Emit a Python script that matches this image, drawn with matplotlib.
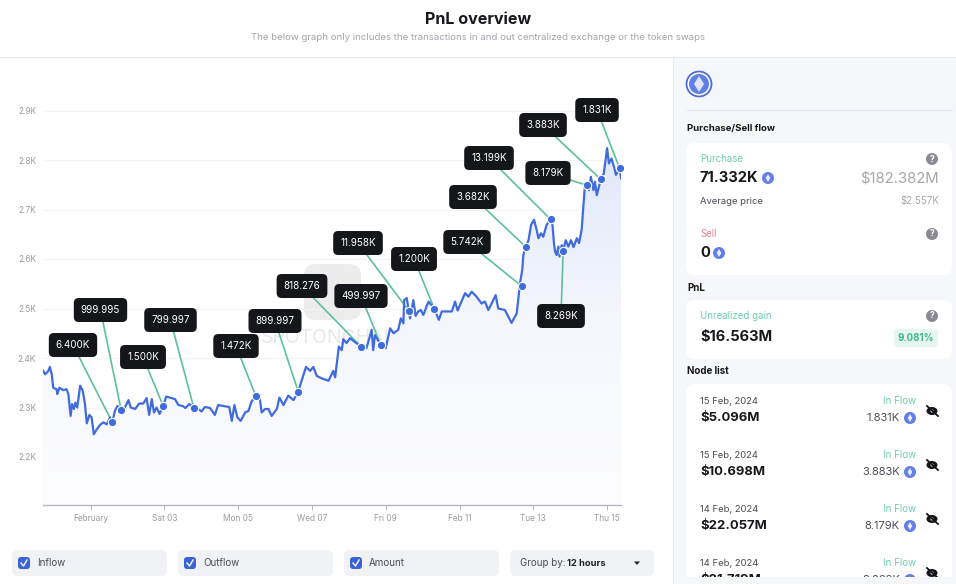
import matplotlib
matplotlib.use("Agg")
import matplotlib.pyplot as plt
import numpy as np
from matplotlib.patches import FancyBboxPatch, Rectangle, Circle, Polygon, Ellipse
from matplotlib.colors import LinearSegmentedColormap

plt.rcParams['font.family'] = ['Inter', 'DejaVu Sans']

# ---------- data ----------
days = [-1.28,-1.23,-1.14,-1.10,-1.05,-1.01,-0.92,-0.90,-0.84,-0.74,-0.65,-0.60,-0.54,-0.50,-0.45,-0.41,-0.36,-0.28,-0.21,-0.15,
        -0.10,-0.03,0.03,0.09,0.17,0.26,0.35,0.44,0.53,0.59,0.66,0.73,0.83,0.91,1.03,1.09,1.21,1.32,1.43,1.52,
        1.59,1.66,1.72,1.79,1.87,1.97,2.05,2.15,2.29,2.38,2.50,2.57,2.68,2.80,2.92,3.01,3.10,3.24,3.37,3.46,
        3.60,3.76,3.83,3.90,3.98,4.07,4.19,4.28,4.37,4.48,4.57,4.64,4.73,4.82,4.91,5.05,5.12,5.23,5.36,5.50,
        5.54,5.63,5.72,5.84,5.95,6.04,6.13,6.26,6.45,6.58,6.63,
        6.69,6.73,6.81,6.85,6.94,7.03,7.17,7.33,7.48,7.62,7.66,7.71,7.87,8.00,8.12,8.21,8.34,8.41,8.48,8.50,
        8.57,8.63,8.66,8.75,8.81,8.88,8.95,9.02,9.16,9.32,9.44,9.52,9.65,9.79,9.88,9.95,10.15,10.24,10.33,10.46,
        10.60,10.69,10.78,10.87,10.98,11.05,11.23,11.41,11.55,11.61,11.64,
        11.70,11.73,11.79,11.87,11.94,12.02,12.09,12.14,12.21,12.27,12.36,12.47,12.52,12.56,12.59,12.63,12.68,12.71,12.77,12.81,
        12.88,12.95,13.02,13.09,13.18,13.24,13.31,13.37,13.40,13.46,13.51,13.56,13.63,13.67,13.72,13.83,13.91,13.94,14.00,14.05,
        14.12,14.20,14.24,14.34,14.38]
prices = [2374,2367,2374,2382,2367,2340,2337,2327,2340,2335,2337,2327,2283,2307,2297,2310,2300,2344,2334,2307,
          2268,2285,2280,2246,2256,2265,2270,2266,2280,2270,2293,2303,2295,2297,2315,2300,2297,2308,2308,2319,
          2285,2317,2290,2300,2287,2303,2322,2320,2317,2305,2303,2299,2307,2299,2297,2292,2301,2299,2285,2305,
          2303,2301,2273,2305,2280,2273,2290,2293,2313,2323,2327,2290,2297,2297,2283,2297,2320,2305,2324,2315,
          2320,2332,2354,2382,2374,2382,2364,2359,2354,2374,2361,
          2399,2423,2416,2438,2430,2440,2432,2423,2420,2457,2416,2446,2426,2420,2460,2450,2457,2480,2470,2517,
          2521,2494,2480,2517,2485,2494,2497,2487,2514,2499,2477,2494,2494,2494,2514,2496,2531,2524,2534,2524,
          2510,2514,2497,2510,2527,2500,2497,2471,2490,2531,2551,
          2578,2608,2625,2638,2669,2679,2659,2642,2652,2645,2669,2680,2669,2632,2615,2608,2625,2605,2628,2617,
          2638,2625,2638,2624,2642,2632,2659,2719,2749,2751,2739,2766,2739,2756,2729,2761,2773,2790,2824,2793,
          2803,2783,2770,2783,2763]

node_labels = ["6.400K","999.995","1.500K","799.997","1.472K","899.997","818.276","499.997","11.958K",
               "1.200K","5.742K","3.682K","13.199K","8.269K","8.179K","3.883K","1.831K"]
node_days = [0.59,0.83,1.97,2.80,4.48,5.63,7.33,7.87,8.64,9.32,11.69,11.79,12.47,12.81,13.45,13.83,14.34]
node_prices = [2270,2295,2303,2299,2323,2332,2423,2426,2494,2499,2545,2625,2680,2617,2749,2761,2783]

tick_days = [0,2,4,6,8,10,12,14]
tick_labels = ["February","Sat 03","Mon 05","Wed 07","Fri 09","Feb 11","Tue 13","Thu 15"]
y_ticks = [2200,2300,2400,2500,2600,2700,2800,2900]
y_labels = ["2.2K","2.3K","2.4K","2.5K","2.6K","2.7K","2.8K","2.9K"]

node_dates = ["15 Feb, 2024","15 Feb, 2024","14 Feb, 2024","14 Feb, 2024"]
node_usd = ["$5.096M","$10.698M","$22.057M","$21.719M"]
node_amt = ["1.831K","3.883K","8.179K","8.269K"]
toggles = ["Inflow","Outflow","Amount"]

# ---------- layout ----------
W, H = 956, 584
label_px = [(73,345),(100.5,310),(143,357),(170.5,320),(236,346),(275,321),(302,286),(361,296),(358,243),
            (414,259),(467,242),(473,197),(489,158),(561,316),(548,173),(543,125),(597,110)]
BLUE = "#3f6bdc"; GREEN = "#5dc09c"; ETH = "#627eea"

fig = plt.figure(figsize=(W/100, H/100), dpi=100, facecolor="white")
ui = fig.add_axes([0,0,1,1], zorder=1)
ui.set_xlim(0,W); ui.set_ylim(H,0); ui.axis("off")
top = fig.add_axes([0,0,1,1], zorder=3)
top.set_xlim(0,W); top.set_ylim(H,0); top.axis("off"); top.patch.set_alpha(0)

def card(x0,y0,x1,y1,fc,r=8,z=1,axes=None):
    (axes or ui).add_patch(FancyBboxPatch((x0+r,y0+r),x1-x0-2*r,y1-y0-2*r,
                           boxstyle=f"round,pad={r},rounding_size={r}",fc=fc,ec="none",zorder=z))
def txt(x,y,s,size=7,color="#222",weight="normal",ha="left",z=5):
    return ui.text(x,y,s,fontsize=size,color=color,fontweight=weight,ha=ha,va="center",zorder=z)
def eth(x,y,r=6):
    ui.add_patch(Circle((x,y),r,fc=ETH,ec="none",zorder=5))
    ui.add_patch(Polygon([(x,y-r*.65),(x+r*.4,y),(x,y+r*.65),(x-r*.4,y)],fc="white",ec="none",alpha=.85,zorder=6))
def qmark(x,y):
    ui.add_patch(Circle((x,y),6,fc="#8a8a94",ec="none",zorder=5))
    txt(x,y,"?",6,"white","bold","center",6)
def eye(x,y):
    ui.add_patch(Ellipse((x,y),11,8,fc="#15151a",ec="none",zorder=5))
    ui.add_patch(Circle((x,y),1.6,fc="#d8d8d0",ec="none",zorder=6))
    ui.plot([x-5,x+6],[y-5,y+5],color="#15151a",lw=1.3,zorder=7)

# header and side panel
ui.add_patch(Rectangle((673,57),283,527,fc="#f6f7fb",ec="none",zorder=0))
ui.plot([0,956],[56.5,56.5],color="#e8e9ee",lw=0.8,zorder=1)
ui.plot([673,673],[57,584],color="#e8e9ee",lw=0.8,zorder=1)
txt(478,20,"PnL overview",11.6,"#17171c","bold","center")
txt(478,37,"The below graph only includes the transactions in and out centralized exchange or the token swaps",6.9,"#a3a4ad",ha="center")

# watermark
card(304,264,361,320,"#ececed",r=12,z=0.5)
t = txt(332.5,338,"SPOTONCHAIN",14,"#e9e9eb",ha="center",z=0.6)

# chart
ax = fig.add_axes([43/W,(H-505)/H,(621-43)/W,(505-57)/H],zorder=2)
ax.patch.set_alpha(0)
xlim = ((43-90.5)/36.9,(621-90.5)/36.9)
ylim = (2200-(505-457)/0.495,2200+(457-57)/0.495)
for s in ["top","left","right"]:
    ax.spines[s].set_visible(False)
ax.spines["bottom"].set_color("#b4b6bf"); ax.spines["bottom"].set_linewidth(1)
ax.set_xticks(tick_days); ax.set_xticklabels(tick_labels)
ax.set_yticks(y_ticks); ax.set_yticklabels(y_labels)
ax.tick_params(axis="x",length=3.5,width=0.7,color="#b4b6bf",labelsize=6,labelcolor="#9a9ba3",pad=3)
ax.tick_params(axis="y",length=0,labelsize=6,labelcolor="#9a9ba3",pad=5)
ax.grid(axis="y",color="#f3f4f6",lw=0.8)
ax.set_axisbelow(True)

xs = np.array(days); ys = np.array(prices)
cmap = LinearSegmentedColormap.from_list("g",["#fdfdff","#f5f7fd","#e1e8fa"])
grad = np.linspace(1,0,256).reshape(-1,1)
im = ax.imshow(grad,extent=[xs[0],xs[-1],ylim[0],2830],aspect="auto",cmap=cmap,zorder=1)
clip = Polygon(np.column_stack([np.r_[xs[0],xs,xs[-1]],np.r_[ylim[0],ys,ylim[0]]]),transform=ax.transData,fc="none",ec="none")
ax.add_patch(clip); im.set_clip_path(clip)
ax.set_xlim(xlim); ax.set_ylim(ylim)

ax.plot(xs,ys,color=BLUE,lw=1.6,zorder=3,solid_joinstyle="round")
ax.plot(node_days,node_prices,ls="none",marker="o",ms=6,mfc=BLUE,mec="white",mew=0.8,zorder=4,clip_on=False)

# node labels with leader lines
renderer = fig.canvas.get_renderer()
inv = ax.transData.inverted()
for lab,d,p,(lx,ly) in zip(node_labels,node_days,node_prices,label_px):
    lxd,lyd = inv.transform((lx,H-ly))
    ax.plot([lxd,d],[lyd,p],color=GREEN,lw=1.2,zorder=2.5,clip_on=False)
    tx = top.text(lx,ly,lab,fontsize=7.1,color="white",ha="center",va="center",zorder=6)
    w = tx.get_window_extent(renderer).width + 14
    card(lx-w/2,ly-12,lx+w/2,ly+12,"#15161a",r=5,z=5,axes=top)

# toggles
for x0,lab in zip([12,178,344],toggles):
    card(x0,550,x0+155,576,"#f1f2f6",r=6)
    card(x0+6,557,x0+18,569,"#3b63d8",r=3,z=3)
    ui.plot([x0+9,x0+11.5,x0+15],[563,566,560],color="white",lw=1,zorder=4)
    txt(x0+25,563,lab,7,"#4a4b55")
card(510,550,654,576,"#f1f2f6",r=6)
txt(520,563,"Group by:",7,"#4a4b55")
txt(567,563,"12 hours",6.7,"#222","bold")
ui.add_patch(Polygon([(634,561.5),(640,561.5),(637,565)],fc="#222",ec="none",zorder=5))

# side panel content
ui.add_patch(Circle((699,84),12.5,fc="white",ec="#4a6fd8",lw=1.3,zorder=4))
ui.add_patch(Circle((699,84),10,fc=ETH,ec="none",zorder=5))
ui.add_patch(Polygon([(699,76),(704,84),(699,92),(694,84)],fc="white",ec="none",alpha=.8,zorder=6))
ui.plot([687,952],[110,110],color="#e6e7ec",lw=0.8,zorder=1)

txt(687,129,"Purchase/Sell flow",6.9,"#17171c","bold")
card(686,143,952,275,"white",r=9)
txt(700,159,"Purchase",7,"#6fd0ac"); qmark(932,159)
txt(700,178,"71.332K",10.6,"#17171c","bold"); eth(768,178)
txt(939,178,"$182.382M",10.7,"#a5a6ae",ha="right")
txt(700,201,"Average price",6.8,"#4a4b55")
txt(939,201,"$2.557K",7,"#a5a6ae",ha="right")
txt(700,234,"Sell",7,"#ef7f95"); qmark(932,234)
txt(700,253,"0",10.6,"#17171c","bold"); eth(719,253)

txt(687,288,"PnL",7,"#17171c","bold")
card(686,300,952,359,"white",r=9)
txt(700,316,"Unrealized gain",7,"#6fd0ac"); qmark(932,316)
txt(700,337,"$16.563M",10.5,"#17171c","bold")
card(894,329,938,347,"#e6f7ef",r=3,z=3)
txt(916,338,"9.081%",7,"#3fb98a","bold","center")

txt(687,371,"Node list",7,"#17171c","bold")
card(686,384,952,600,"white",r=9)
for i in range(4):
    dy = 54*i
    txt(700,401+dy,node_dates[i],6.8,"#4a4b55")
    txt(700,418+dy,node_usd[i],9.4,"#17171c","bold")
    txt(916,401+dy,"In Flow",7,"#6fd0ac",ha="right")
    txt(900,418+dy,node_amt[i],8,"#4a4b55",ha="right")
    eth(910,418+dy)
    eye(932,411+dy)
ui.add_patch(Rectangle((674,577),282,8,fc="#f6f7fb",ec="none",zorder=8))

fig.savefig("out.png",dpi=100,facecolor="white")
